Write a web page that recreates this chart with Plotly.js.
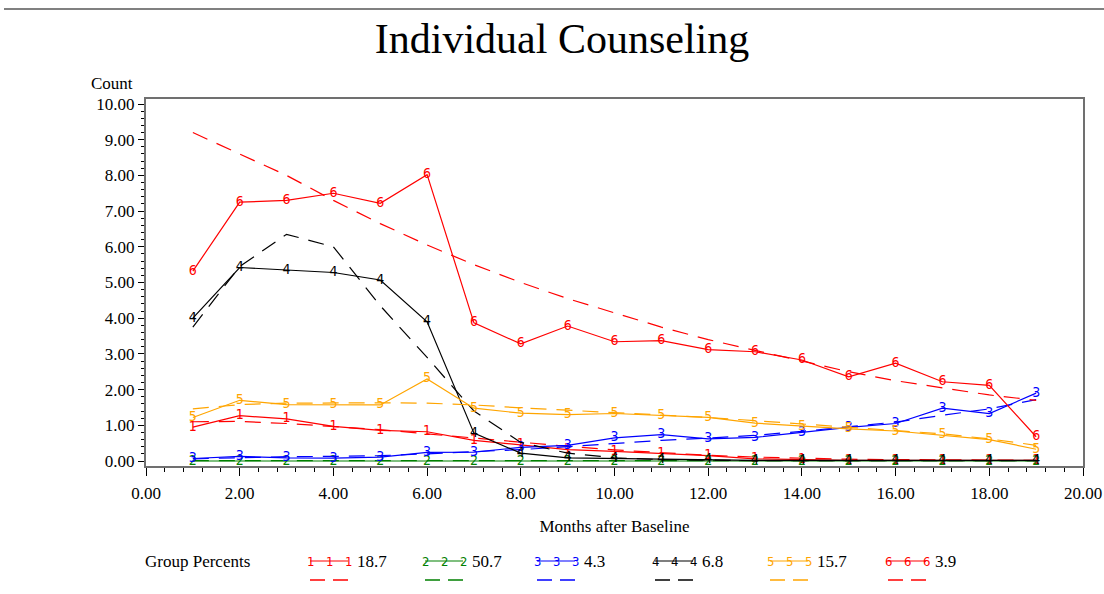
<!DOCTYPE html>
<html>
<head>
<meta charset="utf-8">
<script src="https://cdn.plot.ly/plotly-3.0.1.min.js"></script>
<style>html,body{margin:0;padding:0;background:#fff;}#chart{width:1104px;height:594px;}</style>
</head>
<body>
<div id="chart"></div>
<script>
// ---- data ----
const months = [1,2,3,4,5,6,7,8,9,10,11,12,13,14,15,16,17,18,19];
const groupLabels = ['1','2','3','4','5','6'];
const groupPercents = ['18.7','50.7','4.3','6.8','15.7','3.9'];
const groupColors = ['#FF0000','#008000','#0000FF','#000000','#FFA500','#FF0000'];

const obs1 = [0.95,1.27,1.18,0.97,0.86,0.82,0.58,0.45,0.32,0.27,0.21,0.15,0.06,0.03,0.02,0.02,0.02,0.02,0.02];
const pred1 = [1.10,1.11,1.05,0.97,0.88,0.76,0.64,0.52,0.41,0.31,0.23,0.16,0.11,0.07,0.05,0.04,0.03,0.02,0.02];

const obs2 = [0.0,0.0,0.0,0.0,0.0,0.0,0.0,0.0,0.0,0.0,0.0,0.0,0.0,0.0,0.0,0.0,0.0,0.0,0.0];
const pred2 = [0.01,0.01,0.01,0.01,0.01,0.01,0.01,0.01,0.01,0.01,0.01,0.01,0.01,0.01,0.01,0.01,0.01,0.01,0.01];

const obs3 = [0.07,0.13,0.09,0.08,0.11,0.24,0.25,0.38,0.44,0.65,0.74,0.62,0.66,0.80,0.94,1.05,1.48,1.33,1.90];
const pred3 = [0.06,0.10,0.12,0.13,0.15,0.20,0.25,0.32,0.40,0.50,0.58,0.64,0.72,0.83,0.96,1.09,1.28,1.46,1.72];

const obs4 = [4.00,5.42,5.35,5.28,5.07,3.90,0.78,0.22,0.09,0.07,0.04,0.03,0.02,0.02,0.02,0.02,0.02,0.02,0.02];
const pred4 = [3.75,5.45,6.35,6.00,4.35,2.90,1.40,0.52,0.22,0.09,0.04,0.02,0.01,0.01,0.01,0.01,0.01,0.01,0.01];

const obs5 = [1.22,1.70,1.58,1.58,1.57,2.30,1.48,1.34,1.30,1.33,1.27,1.22,1.06,0.97,0.90,0.84,0.73,0.60,0.33];
const pred5 = [1.46,1.58,1.62,1.63,1.63,1.62,1.57,1.49,1.42,1.36,1.30,1.22,1.13,1.04,0.96,0.87,0.76,0.62,0.44];

const obs6 = [5.32,7.25,7.30,7.50,7.22,8.02,3.87,3.28,3.78,3.34,3.37,3.12,3.06,2.83,2.36,2.74,2.22,2.12,0.68];
const pred6 = [9.20,8.60,8.00,7.30,6.65,6.05,5.50,5.00,4.55,4.15,3.75,3.40,3.10,2.80,2.50,2.25,2.05,1.85,1.70];

const observed = [obs1,obs2,obs3,obs4,obs5,obs6];
const predicted = [pred1,pred2,pred3,pred4,pred5,pred6];

const xTickVals = [0,2,4,6,8,10,12,14,16,18,20];
const yTickVals = [0,1,2,3,4,5,6,7,8,9,10];

// ---- layout geometry ----
const W = 1104, H = 594;
const M = {l:146, r:21, t:99, b:128};
const PW = W - M.l - M.r, PH = H - M.t - M.b;
const px2x = px => (px - M.l) / PW;
const py2y = py => (H - M.b - py) / PH;
const FONT = 'Liberation Serif, Times New Roman, serif';

const traces = [];
for (let g = 0; g < 6; g++) {
  traces.push({
    x: months, y: observed[g], type: 'scatter', mode: 'lines+text',
    text: months.map(() => groupLabels[g]), textposition: 'middle center',
    textfont: {family: 'DejaVu Sans Condensed, DejaVu Sans', size: 14, color: groupColors[g]},
    line: {color: groupColors[g], width: 1.2}, cliponaxis: false,
    showlegend: false, hoverinfo: 'x+y'
  });
  traces.push({
    x: months, y: predicted[g], type: 'scatter', mode: 'lines',
    line: {color: groupColors[g], width: 1.2, dash: '16px,10px'},
    showlegend: false, hoverinfo: 'x+y'
  });
}

const shapes = [
  {type:'line', xref:'paper', yref:'paper', x0: px2x(4), x1: px2x(1104), y0: py2y(9), y1: py2y(9),
   line:{color:'#808080', width:2}}
];
const annotations = [
  {text:'Count', xref:'paper', yref:'paper', x: px2x(112), y: py2y(84), xanchor:'center', yanchor:'middle',
   showarrow:false, font:{family:FONT, size:17, color:'#000'}},
  {text:'Group Percents', xref:'paper', yref:'paper', x: px2x(143), y: py2y(561), xanchor:'left', yanchor:'middle',
   showarrow:false, font:{family:FONT, size:17, color:'#000'}}
];
const legendX = [310, 425, 537, 655, 770, 888];
for (let g = 0; g < 6; g++) {
  const x0 = legendX[g], x1 = x0 + 38;
  shapes.push({type:'line', xref:'paper', yref:'paper', x0: px2x(x0), x1: px2x(x1), y0: py2y(561), y1: py2y(561),
    line:{color: groupColors[g], width:1.2}});
  shapes.push({type:'line', xref:'paper', yref:'paper', x0: px2x(x0), x1: px2x(x1), y0: py2y(580), y1: py2y(580),
    line:{color: groupColors[g], width:1.5, dash:'15px,8px'}});
  [x0, x0 + 19, x1].forEach(px => annotations.push({
    text: groupLabels[g], xref:'paper', yref:'paper', x: px2x(px), y: py2y(561), xanchor:'center', yanchor:'middle',
    showarrow:false, font:{family:'DejaVu Sans Condensed, DejaVu Sans', size:13, color: groupColors[g]}
  }));
  annotations.push({text: groupPercents[g], xref:'paper', yref:'paper', x: px2x(x1 + 7), y: py2y(561),
    xanchor:'left', yanchor:'middle', showarrow:false, font:{family:FONT, size:17, color:'#000'}});
}

const layout = {
  width: W, height: H, margin: M,
  paper_bgcolor: '#fff', plot_bgcolor: '#fff',
  font: {family: FONT, color: '#000'},
  title: {text: 'Individual Counseling', font: {family: FONT, size: 42, color: '#000'},
          xref: 'container', x: 562 / W, xanchor: 'center', yref: 'container', y: 1 - 38 / H, yanchor: 'middle'},
  xaxis: {range: [0, 20], tickvals: xTickVals, tickformat: '.2f', ticks: 'outside', ticklen: 8, tickwidth: 1,
          tickcolor: '#000', showgrid: false, zeroline: false, showline: true, mirror: true,
          linecolor: '#707070', linewidth: 2, tickfont: {family: FONT, size: 17}, ticklabelstandoff: 3,
          minor: {dtick: 0.4, ticklen: 4, ticks: 'outside', tickcolor: '#000', showgrid: false},
          title: {text: 'Months after Baseline', font: {family: FONT, size: 17}, standoff: 18}},
  yaxis: {range: [-0.14, 10.14], tickvals: yTickVals, tickformat: '.2f', ticks: 'outside', ticklen: 6, tickwidth: 1,
          tickcolor: '#000', showgrid: false, zeroline: false, showline: true, mirror: true,
          linecolor: '#707070', linewidth: 2, tickfont: {family: FONT, size: 17},
          minor: {dtick: 0.2, ticklen: 3, ticks: 'outside', tickcolor: '#000', showgrid: false}},
  shapes: shapes, annotations: annotations, showlegend: false
};

Plotly.newPlot('chart', traces, layout, {displayModeBar: false, staticPlot: true});
</script>
</body>
</html>
